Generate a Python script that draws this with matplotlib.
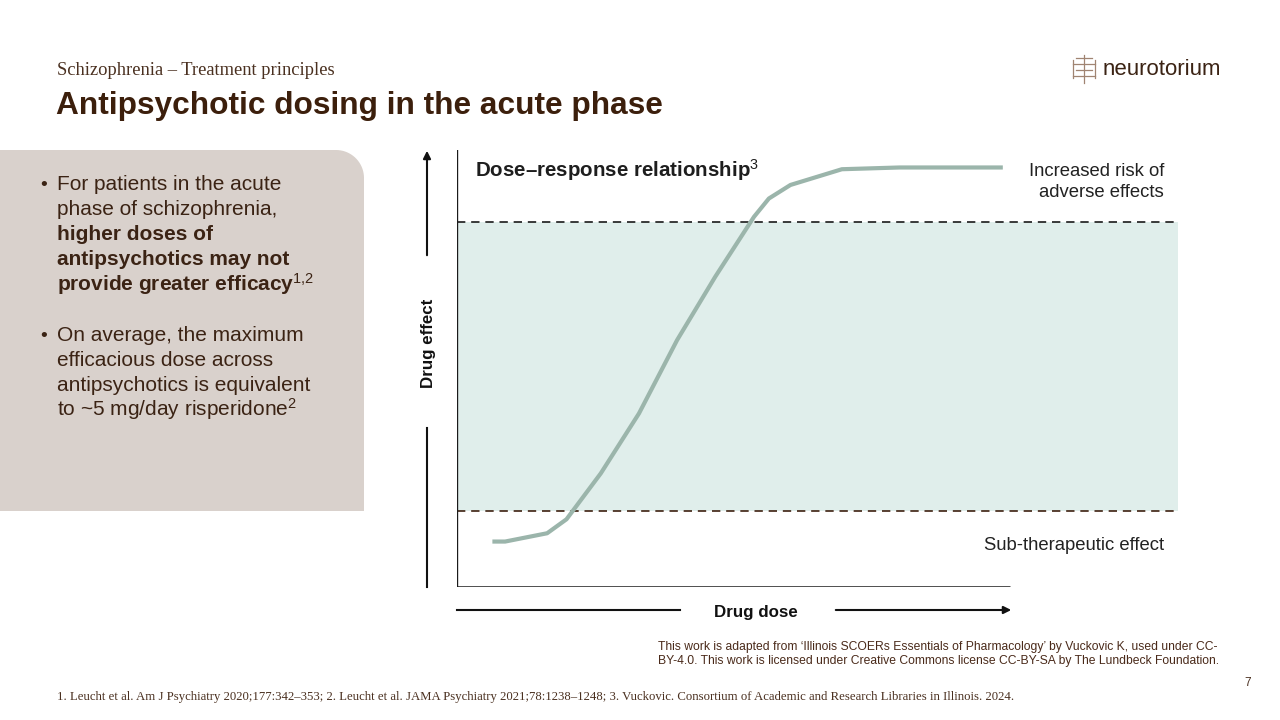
import numpy as np
import matplotlib
matplotlib.use("Agg")
import matplotlib.pyplot as plt
from matplotlib.patches import Polygon, FancyArrowPatch

plt.rcParams['font.family'] = ['Liberation Sans', 'DejaVu Sans']
plt.rcParams['mathtext.fontset'] = 'custom'
plt.rcParams['mathtext.rm'] = 'Liberation Sans'
plt.rcParams['mathtext.it'] = 'Liberation Sans:italic'
plt.rcParams['mathtext.bf'] = 'Liberation Sans:bold'

# dose-response curve (dose and effect in arbitrary units)
dose = [6.4, 8.7, 16.3, 19.8, 26.0, 32.9, 39.8, 46.7, 53.7, 56.4, 60.3, 69.6, 80.0, 98.7]
effect = [10.4, 10.4, 12.3, 15.5, 26.0, 39.7, 56.5, 71.0, 84.7, 88.9, 92.0, 95.6, 96.0, 96.0]
sub_threshold = 17.4
adverse_threshold = 83.5

zone_labels = ["Increased risk of\nadverse effects", "Therapeutic window", "Sub-therapeutic effect"]

bullet1 = ["For patients in the acute", "phase of schizophrenia,",
           "higher doses of", "antipsychotics may not",
           r"provide greater efficacy$^{\mathrm{1{,}2}}$"]
bullet1_bold = [False, False, True, True, True]
bullet2 = ["On average, the maximum", "efficacious dose across",
           "antipsychotics is equivalent", r"to ~5 mg/day risperidone$^{\mathrm{2}}$"]

brown = '#3c1f0c'
text_brown = '#3b2314'
dark = '#222222'

fig = plt.figure(figsize=(12.8, 7.2), dpi=100)

# background axes in slide pixel coordinates
bg = fig.add_axes([0, 0, 1, 1])
bg.set_xlim(0, 1280)
bg.set_ylim(720, 0)
bg.axis('off')

# left panel with a rounded top-right corner
r = 28
t = np.linspace(-np.pi / 2, 0, 20)
arc = np.column_stack([364 - r + r * np.cos(t), 150 + r + r * np.sin(t)])
pts = np.vstack([[[0, 150]], arc, [[364, 511], [0, 511]]])
bg.add_patch(Polygon(pts, closed=True, facecolor='#d9d1cc', edgecolor='none'))

# header
bg.text(57, 75, "Schizophrenia \u2013 Treatment principles", fontsize=13.3,
        family=['Liberation Serif'], color='#4a3020', va='baseline')
bg.text(56, 114, "Antipsychotic dosing in the acute phase", fontsize=22.8,
        fontweight='bold', color=brown, va='baseline')

# logo
bg.text(1103, 75, "neurotorium", fontsize=16, color=text_brown, va='baseline')
lc = '#a08472'
bg.plot([1084, 1084], [55, 83], color=lc, lw=0.9)
for yy, half in [(58, 8), (64, 11), (70, 8), (76, 11)]:
    bg.plot([1084 - half, 1084 + half], [yy, yy], color=lc, lw=0.9)
for xx in [1073, 1095]:
    bg.plot([xx, xx], [60, 78], color=lc, lw=0.9)

# bullets
ys = [190, 215, 240, 265, 291]
bg.text(40, ys[0], "\u2022", fontsize=14, color=text_brown, va='baseline')
for line, b, y in zip(bullet1, bullet1_bold, ys):
    bg.text(57, y, line, fontsize=15, color=text_brown, va='baseline',
            fontweight='bold' if b else 'normal')
ys2 = [341, 366, 391, 416]
bg.text(40, ys2[0], "\u2022", fontsize=14, color=text_brown, va='baseline')
for line, y in zip(bullet2, ys2):
    bg.text(57, y, line, fontsize=15, color=text_brown, va='baseline')

# axis arrows
bg.plot([427, 427], [587, 428], color='#111111', lw=1.5)
bg.add_patch(FancyArrowPatch((427, 258), (427, 148), arrowstyle='-|>',
                             mutation_scale=11, color='#111111', lw=1.5))
bg.text(428, 343, "Drug effect", rotation=90, fontsize=12.2, fontweight='bold',
        color='#111111', ha='center', va='center')
bg.plot([457, 680], [610, 610], color='#111111', lw=1.5)
bg.add_patch(FancyArrowPatch((833, 610), (1014, 610), arrowstyle='-|>',
                             mutation_scale=11, color='#111111', lw=1.5))
bg.text(756, 612, "Drug dose", fontsize=12.2, fontweight='bold',
        color='#111111', ha='center', va='center')

# chart
ax = fig.add_axes([457 / 1280, (720 - 587) / 720, 721 / 1280, 437 / 720])
ax.set_xlim(0, 721 / 5.53)
ax.set_ylim(0, 100)
ax.axis('off')
ax.axhspan(sub_threshold, adverse_threshold, color='#e0eeeb', lw=0, zorder=0)
ax.axhline(adverse_threshold, color='#1a1a1a', lw=1.2, ls=(0, (5, 3.5)), zorder=2)
ax.axhline(sub_threshold, color='#3d2010', lw=1.2, ls=(0, (5, 3.5)), zorder=2)
ax.plot([0, 0], [0, 100.5], color='#1a1a1a', lw=1.7, solid_capstyle='butt')
ax.plot([0, 100], [0, 0], color='#1a1a1a', lw=1.8, solid_capstyle='butt')
ax.plot(dose, effect, color='#9bb5ab', lw=3, solid_capstyle='butt',
        solid_joinstyle='round', zorder=3)

bg.text(475, 177, "Dose\u2013response relationship" + r"$^{\mathrm{3}}$",
        fontsize=14.8, fontweight='bold', color='#1e1e1e', va='baseline', zorder=5)
bg.text(1164, 182, zone_labels[0], fontsize=13.3, color=dark, ha='right',
        va='center', linespacing=1.35, zorder=5)
bg.text(1164, 376, zone_labels[1], fontsize=13.3, color=brown, ha='right',
        va='center', zorder=5)
bg.text(1164, 545, zone_labels[2], fontsize=13.3, color=dark, ha='right',
        va='center', zorder=5)

# attribution and footnotes
bg.text(658, 654, "This work is adapted from \u2018Illinois SCOERs Essentials of Pharmacology\u2019 by Vuckovic K, used under CC-\n"
        "BY-4.0. This work is licensed under Creative Commons license CC-BY-SA by The Lundbeck Foundation.",
        fontsize=8.7, color='#4a2a1a', va='center', linespacing=1.15, zorder=5)
bg.text(57, 697, "1. Leucht et al. Am J Psychiatry 2020;177:342\u2013353; 2. Leucht et al. JAMA Psychiatry 2021;78:1238\u20131248; "
        "3. Vuckovic. Consortium of Academic and Research Libraries in Illinois. 2024.",
        fontsize=9.2, family=['Liberation Serif'], color='#4a3020', va='center')
bg.text(1248, 683, "7", fontsize=8.5, color='#4a3020', ha='center', va='center')

fig.savefig("out.png", dpi=100)
